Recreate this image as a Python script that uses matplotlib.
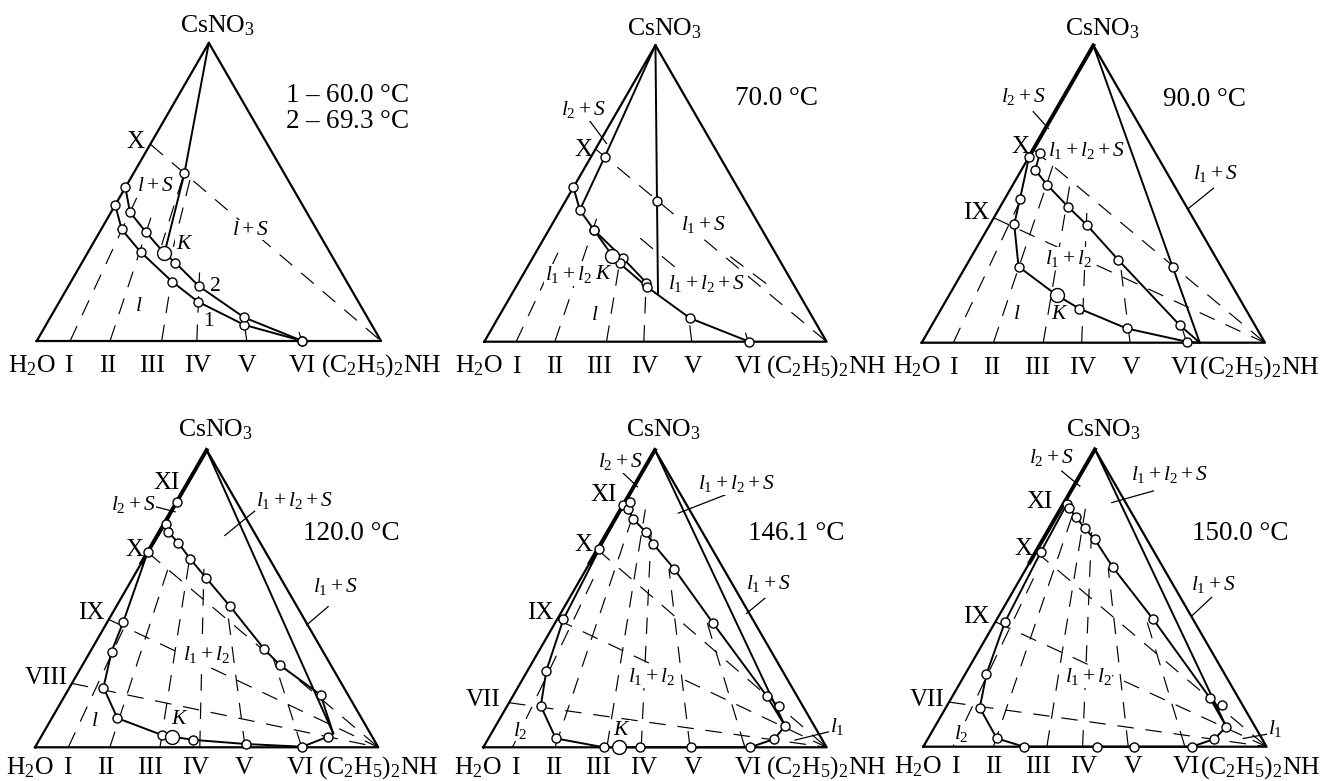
import numpy as np
import matplotlib
matplotlib.use("Agg")
import matplotlib.pyplot as plt

plt.rcParams['font.family'] = ['Liberation Serif', 'DejaVu Serif']
plt.rcParams['mathtext.fontset'] = 'custom'
plt.rcParams['mathtext.rm'] = 'Liberation Serif'
plt.rcParams['mathtext.it'] = 'Liberation Serif:italic'

# all compositions are (CsNO3, (C2H5)2NH) mass fractions, water is the rest
ROMAN = ['I', 'II', 'III', 'IV', 'V', 'VI']

# ---- 60.0 / 69.3 C
T60_CURVE = [(0.456, 0.0), (0.374, 0.06), (0.299, 0.152), (0.199, 0.294), (0.132, 0.402), (0.054, 0.576), (0.0, 0.772)]
T69_CURVE = [(0.515, 0.0), (0.432, 0.055), (0.364, 0.136), (0.294, 0.224), (0.263, 0.271), (0.184, 0.379), (0.079, 0.563), (0.0, 0.772)]
T69_K = (0.294, 0.224)
T69_TIE = [(1.0, 0.0), (0.562, 0.148), (0.294, 0.224)]
T69_POINTS = [(0.562, 0.148)]
T60_BASE = [0.097, 0.213, 0.363, 0.465, 0.61, 0.77]
T60_BASE_TOP = [0.48, 0.42, 0.2, 0.23, 0.09, 0.03]
T60_EDGE = [0.66]
T60_DASHED = [[(0.545, 0.151), (0.322, 0.202)], [(0.54, 0.175), (0.316, 0.239)]]

# ---- 70.0 C
T70_CURVE_A = [(0.521, 0.0), (0.444, 0.057), (0.377, 0.132), (0.281, 0.265), (0.199, 0.374)]
T70_CURVE_B = [(0.377, 0.132), (0.289, 0.23), (0.264, 0.264), (0.186, 0.381), (0.079, 0.562), (0.0, 0.774)]
T70_K = (0.289, 0.23)
T70_TIES = [[(1.0, 0.0), (0.624, 0.04), (0.444, 0.057)], [(1.0, 0.0), (0.475, 0.267), (0.163, 0.426)]]
T70_POINTS = [(0.624, 0.04), (0.475, 0.267)]
T70_BASE = [0.093, 0.206, 0.357, 0.466, 0.606, 0.771]
T70_BASE_TOP = [0.3, 0.42, 0.25, 0.18, 0.06, 0.03]
T70_EDGE = [0.65]
T70_DASHED = [[(0.349, 0.281), (0.242, 0.446)], [(0.287, 0.575), (0.191, 0.734)]]

# ---- 90.0 C
T90_UPPER = [(0.637, 0.026), (0.581, 0.04), (0.53, 0.101), (0.457, 0.198), (0.396, 0.283), (0.278, 0.434), (0.059, 0.722)]
T90_LOWER = [(0.626, 0.0), (0.482, 0.045), (0.399, 0.07), (0.256, 0.154), (0.16, 0.313), (0.115, 0.401), (0.048, 0.573), (0.003, 0.772)]
T90_END = (0.0, 0.81)
T90_K = (0.16, 0.313)
T90_POINTS = [(0.256, 0.603)]
T90_BASE = [0.092, 0.209, 0.354, 0.466, 0.607, 0.772]
T90_BASE_TOP = [0.47, 0.6, 0.55, 0.45, 0.25, 0.05]
T90_EDGE = [0.65, 0.42]

# ---- 120.0 C
T120_LEFT = [(0.826, 0.0), (0.751, 0.005), (0.656, 0.0), (0.423, 0.046), (0.322, 0.062), (0.201, 0.099), (0.098, 0.191),
             (0.041, 0.35), (0.036, 0.38), (0.025, 0.449), (0.011, 0.609), (0.002, 0.778), (0.036, 0.836)]
T120_UPPER = [(0.725, 0.025), (0.688, 0.073), (0.633, 0.136), (0.571, 0.212), (0.475, 0.33), (0.33, 0.503), (0.276, 0.576), (0.176, 0.744)]
T120_END = (0.047, 0.845)
T120_K = (0.036, 0.38)
T120_BASE = [0.097, 0.218, 0.364, 0.48, 0.612, 0.777]
T120_BASE_TOP = [0.42, 0.6, 0.65, 0.6, 0.45, 0.3]
T120_EDGE = [0.215, 0.43, 0.656]

# ---- 146.1 C
T146_LEFT = [(0.815, 0.0), (0.666, 0.005), (0.43, 0.018), (0.257, 0.055), (0.139, 0.098), (0.03, 0.196), (0.0, 0.351),
             (0.0, 0.395), (0.0, 0.456), (0.0, 0.605), (0.0, 0.777), (0.028, 0.834)]
T146_UPPER = [(0.8, 0.022), (0.767, 0.054), (0.725, 0.11), (0.684, 0.153), (0.6, 0.256), (0.417, 0.461), (0.173, 0.739)]
T146_END = (0.072, 0.843)
T146_K = (0.0, 0.395)
T146_POINTS = [(0.826, 0.014), (0.139, 0.792), (0.072, 0.843)]
T146_BASE = [0.085, 0.209, 0.36, 0.46, 0.602, 0.762]
T146_BASE_TOP = [0.6, 0.8, 0.8, 0.75, 0.6, 0.42]
T146_EDGE = [0.15, 0.43, 0.665]

# ---- 150.0 C
T150_LEFT = [(0.818, 0.01), (0.656, 0.015), (0.42, 0.028), (0.244, 0.062), (0.131, 0.099), (0.028, 0.2), (0.0, 0.293),
             (0.0, 0.507), (0.0, 0.614), (0.0, 0.782), (0.026, 0.835)]
T150_UPPER = [(0.802, 0.024), (0.774, 0.057), (0.734, 0.104), (0.697, 0.151), (0.603, 0.251), (0.428, 0.456), (0.163, 0.754)]
T150_END = (0.067, 0.849)
T150_POINTS = [(0.14, 0.799), (0.067, 0.849)]
T150_BASE = [0.087, 0.204, 0.36, 0.464, 0.597, 0.762]
T150_BASE_TOP = [0.6, 0.8, 0.8, 0.75, 0.6, 0.42]
T150_EDGE = [0.15, 0.42, 0.656]

W, H = 1324, 781
fig = plt.figure(figsize=(W / 100, H / 100), dpi=100)
SQ = np.sqrt(3) / 2

# left vertex of each triangle (px from top-left) and side length in px
ORIGINS = [(36.7, 341.0), (484.3, 341.7), (921.7, 342.7), (35.0, 747.3), (483.3, 747.3), (923.3, 746.7)]
SIDES = [344.3, 342.3, 343.3, 343.3, 343.3, 343.3]

BIG = 18.5
SMALL = 15.5


def to_xy(pts):
    p = np.asarray(pts, dtype=float).reshape(-1, 2)
    return p[:, 1] + p[:, 0] / 2, p[:, 0] * SQ


def make_ax(i):
    ox, oy = ORIGINS[i]
    s = SIDES[i]
    ax = fig.add_axes([(ox - 0.15 * s) / W, (H - oy - 0.15 * s) / H, 1.4 * s / W, 1.15 * s / H])
    ax.set_xlim(-0.15, 1.25)
    ax.set_ylim(-0.15, 1.0)
    ax.axis('off')
    return ax


def solid(ax, pts, lw=1.4):
    x, y = to_xy(pts)
    ax.plot(x, y, color='k', lw=lw, solid_joinstyle='round', zorder=3)


def dashed(ax, pts):
    x, y = to_xy(pts)
    ax.plot(x, y, color='k', lw=0.85, dashes=(14, 10), zorder=2)


def circles(ax, pts, big=False):
    x, y = to_xy(pts)
    ax.plot(x, y, 'o', ms=10 if big else 6.5, mfc='white', mec='k', mew=1.0, zorder=6, clip_on=False)


def frame(ax, thick_left=False):
    solid(ax, [(0, 0), (0, 1), (1, 0), (0, 0)], lw=1.6)
    if thick_left:
        solid(ax, [(1, 0), (0.62, 0)], lw=2.8)


def sections(ax, base, top, edge):
    for b0, t in zip(base, top):
        dashed(ax, [(0, b0), (t, b0 * (1 - t))])
    for a0 in edge:
        dashed(ax, [(a0, 0), (0, 1)])


def axis_labels(ax, row, right=False):
    vb = -0.09 if row == 0 else -0.078
    vt = 0.895 if row == 0 else 0.905
    ax.text(0.525, vt, 'CsNO$_3$', ha='center', va='baseline', fontsize=BIG)
    ax.text(-0.015, vb, 'H$_2$O', ha='center', va='baseline', fontsize=BIG)
    spots = [0.093, 0.205, 0.335, 0.468, 0.61, 0.765 if right else 0.772]
    for r, u in zip(ROMAN, spots):
        ax.text(u, vb, r, ha='center', va='baseline', fontsize=BIG)
    ax.text(0.983 if right else 1.0, vb, '(C$_2$H$_5$)$_2$NH', ha='center', va='baseline', fontsize=BIG)


def temp(ax, s, u, v):
    ax.text(u, v, s, ha='center', va='baseline', fontsize=19.5)


def labels(ax, items, leaders=()):
    for s, u, v in items:
        italic = s.startswith('$')
        ax.text(u, v, s, ha='center', va='center', fontsize=SMALL if italic else 18, zorder=2.5,
                bbox=dict(fc='white', ec='none', pad=0.6))
    for (u0, v0), (u1, v1) in leaders:
        ax.plot([u0, u1], [v0, v1], color='k', lw=0.9)


# ---------- panel 1
ax = make_ax(0)
frame(ax)
sections(ax, T60_BASE, T60_BASE_TOP, T60_EDGE)
for seg in T60_DASHED:
    dashed(ax, seg)
solid(ax, T60_CURVE)
solid(ax, T69_CURVE)
solid(ax, T69_TIE)
circles(ax, T60_CURVE)
circles(ax, T69_CURVE)
circles(ax, T69_POINTS)
circles(ax, [T69_K], big=True)
axis_labels(ax, 0)
ax.text(0.72, 0.695, r'$\mathit{1}$ – 60.0 °C', ha='left', va='baseline', fontsize=19.5)
ax.text(0.72, 0.618, r'$\mathit{2}$ – 69.3 °C', ha='left', va='baseline', fontsize=19.5)
labels(ax, [('X', 0.286, 0.579), ('$l + S$', 0.344, 0.448), ('$l + S$', 0.62, 0.322), ('$K$', 0.431, 0.279),
            ('$l$', 0.295, 0.1)])
ax.text(0.516, 0.158, r'$\mathit{2}$', ha='center', va='center', fontsize=SMALL)
ax.text(0.499, 0.056, r'$\mathit{1}$', ha='center', va='center', fontsize=SMALL)

# ---------- panel 2
ax = make_ax(1)
frame(ax)
sections(ax, T70_BASE, T70_BASE_TOP, T70_EDGE)
for seg in T70_DASHED:
    dashed(ax, seg)
solid(ax, T70_CURVE_A)
solid(ax, T70_CURVE_B)
for tie in T70_TIES:
    solid(ax, tie)
circles(ax, T70_CURVE_A)
circles(ax, [p for p in T70_CURVE_B if p != T70_K])
circles(ax, T70_POINTS)
circles(ax, [T70_K], big=True)
axis_labels(ax, 0)
temp(ax, '70.0 °C', 0.854, 0.691)
labels(ax, [('X', 0.289, 0.56), ('$l_2 + S$', 0.289, 0.677), ('$l_1 + S$', 0.64, 0.341), ('$l_1 + l_2$', 0.245, 0.195),
            ('$K$', 0.348, 0.195), ('$l_1 + l_2 + S$', 0.649, 0.17), ('$l$', 0.323, 0.078)],
       [((0.299, 0.657), (0.357, 0.579))])

# ---------- panel 3
ax = make_ax(2)
frame(ax, thick_left=True)
sections(ax, T90_BASE, T90_BASE_TOP, T90_EDGE)
solid(ax, T90_UPPER + [T90_END])
solid(ax, T90_LOWER + [T90_END])
solid(ax, [(1.0, 0.0), T90_END])
circles(ax, T90_UPPER)
circles(ax, [p for p in T90_LOWER if p != T90_K])
circles(ax, T90_POINTS)
circles(ax, [T90_K], big=True)
axis_labels(ax, 0, right=True)
temp(ax, '90.0 °C', 0.825, 0.689)
labels(ax, [('$l_2 + S$', 0.296, 0.717), ('X', 0.288, 0.571), ('$l_1 + l_2 + S$', 0.481, 0.561), ('$l_1 + S$', 0.854, 0.493),
            ('IX', 0.16, 0.377), ('$l_1 + l_2$', 0.427, 0.246), ('$l$', 0.277, 0.081), ('$K$', 0.403, 0.081)],
       [((0.325, 0.673), (0.369, 0.624)), ((0.85, 0.45), (0.777, 0.391))])

# ---------- panel 4
ax = make_ax(3)
frame(ax, thick_left=True)
sections(ax, T120_BASE, T120_BASE_TOP, T120_EDGE)
solid(ax, T120_LEFT + [T120_END])
solid(ax, T120_UPPER + [T120_END])
solid(ax, [(1.0, 0.0), T120_END])
circles(ax, [p for p in T120_LEFT if p != T120_K])
circles(ax, T120_UPPER)
circles(ax, [T120_K], big=True)
axis_labels(ax, 1)
temp(ax, '120.0 °C', 0.922, 0.604)
labels(ax, [('XI', 0.383, 0.769), ('$l_2 + S$', 0.286, 0.706), ('$l_1 + l_2 + S$', 0.757, 0.72), ('X', 0.291, 0.575),
            ('$l_1 + S$', 0.874, 0.468), ('IX', 0.165, 0.39), ('$l_1 + l_2$', 0.5, 0.269), ('VIII', 0.034, 0.201),
            ('$l$', 0.175, 0.075), ('$K$', 0.422, 0.08)],
       [((0.35, 0.701), (0.408, 0.686)), ((0.641, 0.689), (0.553, 0.617)), ((0.854, 0.41), (0.791, 0.356))])

# ---------- panel 5
ax = make_ax(4)
frame(ax, thick_left=True)
sections(ax, T146_BASE, T146_BASE_TOP, T146_EDGE)
solid(ax, T146_LEFT + [T146_END])
solid(ax, T146_UPPER + [T146_END])
solid(ax, [(1.0, 0.0), T146_END])
circles(ax, [p for p in T146_LEFT if p != T146_K])
circles(ax, T146_UPPER)
circles(ax, T146_POINTS)
circles(ax, [T146_K], big=True)
axis_labels(ax, 1)
temp(ax, '146.1 °C', 0.913, 0.604)
labels(ax, [('$l_2 + S$', 0.398, 0.832), ('XI', 0.35, 0.735), ('$l_1 + l_2 + S$', 0.738, 0.769), ('X', 0.291, 0.589),
            ('$l_1 + S$', 0.83, 0.478), ('IX', 0.165, 0.39), ('$l_1 + l_2$', 0.49, 0.206), ('VII', 0.0, 0.138),
            ('$l_1$', 1.03, 0.06), ('$l_2$', 0.107, 0.05), ('$K$', 0.403, 0.05)],
       [((0.408, 0.798), (0.449, 0.759)), ((0.704, 0.735), (0.568, 0.682)), ((0.82, 0.434), (0.767, 0.39)),
        ((1.01, 0.046), (0.908, 0.021))])

# ---------- panel 6
ax = make_ax(5)
frame(ax, thick_left=True)
sections(ax, T150_BASE, T150_BASE_TOP, T150_EDGE)
solid(ax, T150_LEFT + [T150_END])
solid(ax, T150_UPPER + [T150_END])
solid(ax, [(1.0, 0.0), T150_END])
circles(ax, T150_LEFT)
circles(ax, T150_UPPER)
circles(ax, T150_POINTS)
axis_labels(ax, 1, right=True)
temp(ax, '150.0 °C', 0.922, 0.602)
labels(ax, [('$l_2 + S$', 0.374, 0.842), ('XI', 0.34, 0.714), ('$l_1 + l_2 + S$', 0.718, 0.793), ('X', 0.291, 0.575),
            ('$l_1 + S$', 0.845, 0.473), ('IX', 0.155, 0.377), ('$l_1 + l_2$', 0.48, 0.204), ('VII', 0.01, 0.136),
            ('$l_1$', 1.024, 0.053), ('$l_2$', 0.112, 0.039)],
       [((0.403, 0.803), (0.456, 0.759)), ((0.67, 0.745), (0.549, 0.711)), ((0.84, 0.435), (0.782, 0.381)),
        ((1.015, 0.039), (0.932, 0.024))])

fig.savefig('out.png', dpi=100)
